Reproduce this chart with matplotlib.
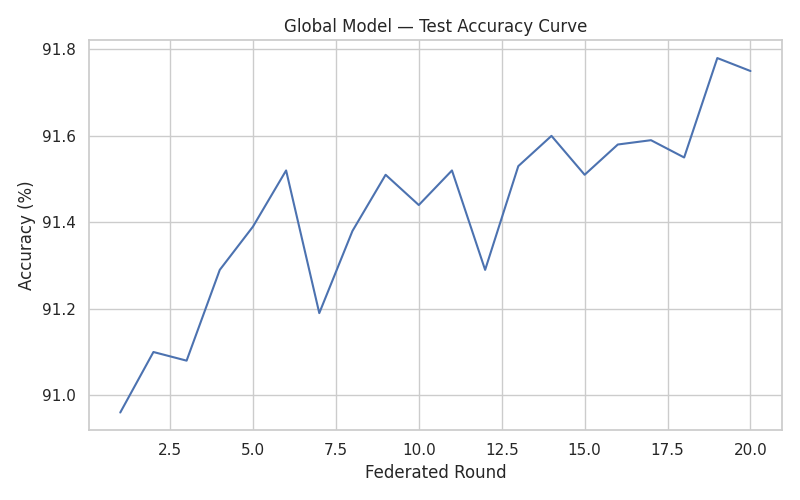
import matplotlib
matplotlib.use("Agg")
import matplotlib.pyplot as plt
import seaborn as sns

rounds = list(range(1, 21))
accuracy = [90.96, 91.10, 91.08, 91.29, 91.39, 91.52, 91.19, 91.38, 91.51, 91.44,
            91.52, 91.29, 91.53, 91.60, 91.51, 91.58, 91.59, 91.55, 91.78, 91.75]

sns.set_theme(style="whitegrid")

fig, ax = plt.subplots(figsize=(8, 5), dpi=100)
ax.plot(rounds, accuracy, color="#4c72b0", linewidth=1.5)
ax.set_title("Global Model \u2014 Test Accuracy Curve")
ax.set_xlabel("Federated Round")
ax.set_ylabel("Accuracy (%)")

plt.tight_layout()
plt.savefig("out.png")
